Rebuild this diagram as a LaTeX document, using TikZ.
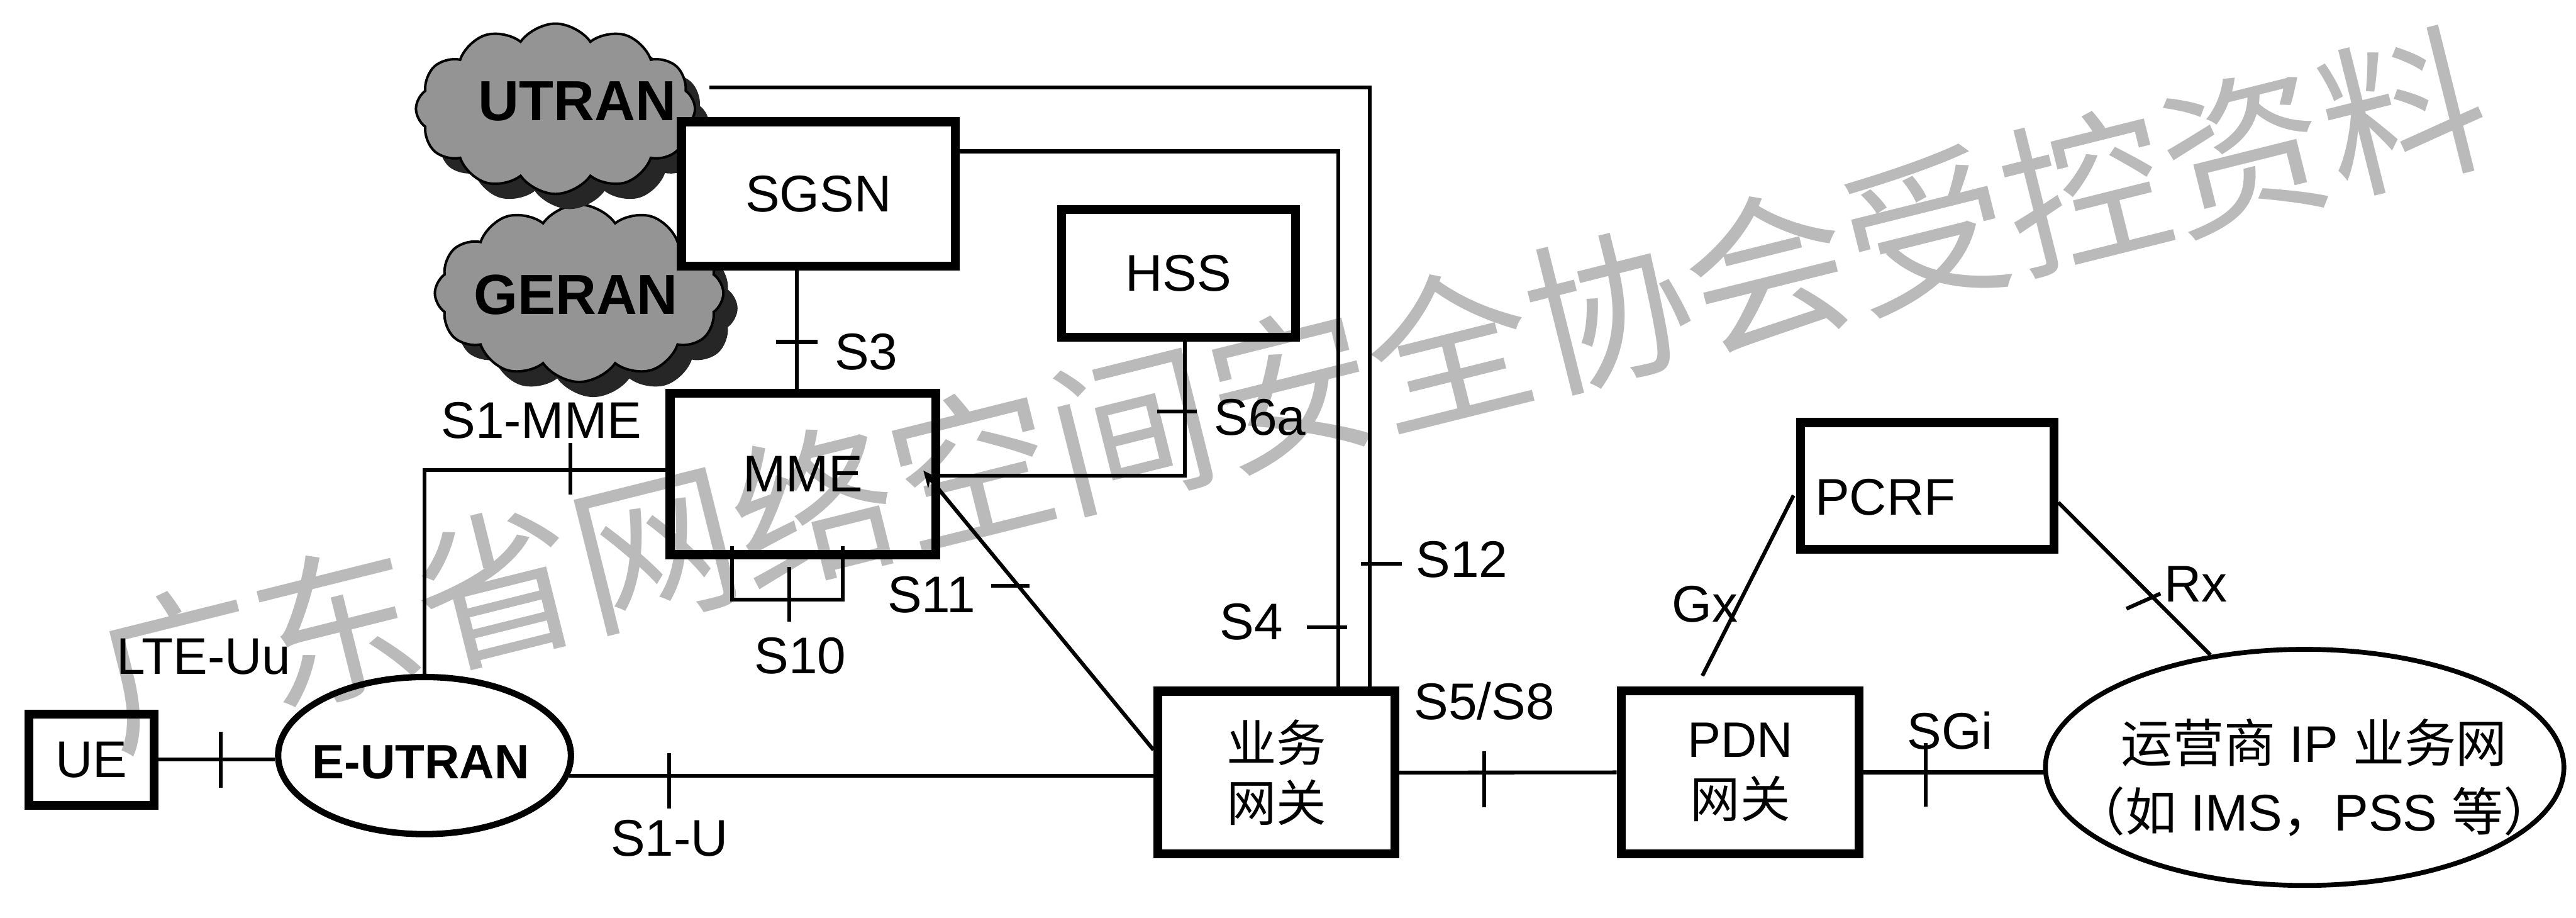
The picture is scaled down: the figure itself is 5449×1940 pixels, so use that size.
\documentclass[tikz,border=0pt]{standalone}
\usepackage{fontspec}
\setmainfont{Liberation Sans}
\newfontfamily\cjk{Noto Sans CJK SC}
\usetikzlibrary{shapes.geometric,shapes.symbols,calc,arrows.meta}
\definecolor{wmgray}{HTML}{BABABA}
\begin{document}
\begin{tikzpicture}[x=0.01cm, y=-0.01cm,
  box/.style={draw, line width=5.4pt, rectangle, inner sep=0, align=center, font=\fontsize{31}{36}\selectfont},
  conn/.style={line width=2.3pt},
  tickln/.style={line width=2.3pt},
  lbl/.style={inner sep=0, font=\fontsize{31}{36}\selectfont},
  cl/.style={cloud, cloud puffs=12, cloud puff arc=110, cloud ignores aspect, inner sep=0},
  cltxt/.style={inner sep=0, font=\bfseries\fontsize{34}{40}\selectfont},
]
\useasboundingbox (0,0) rectangle (5449,1940);

% watermark (behind everything)
\node[rotate=14, text=wmgray, inner sep=0, font=\cjk\fontsize{98.5}{100}\selectfont] (wm) at (2730,822) {广东省网络空间安全协会受控资料};

% clouds
\node[cl, fill=black!85, minimum width=6.1cm, minimum height=3.75cm] (geransh) at (1255,652) {};
\node[cl, draw, line width=1.5pt, fill=black!42, minimum width=6.1cm, minimum height=3.75cm] (geran) at (1225,620) {};
\node[cl, fill=black!85, minimum width=5.9cm, minimum height=3.6cm] (utransh) at (1205,262) {};
\node[cl, draw, line width=1.5pt, fill=black!42, minimum width=5.9cm, minimum height=3.6cm] (utran) at (1175,230) {};
\node[cltxt] (utrantxt) at (1221,214) {UTRAN};
\node[cltxt] (gerantxt) at (1218,623) {GERAN};

% boxes
\node[box, fill=white, minimum width=5.79cm, minimum height=3.05cm] (sgsn) at (1731,410) {SGSN};
\node[box, minimum width=4.95cm, minimum height=2.69cm] (hss) at (2493,578) {HSS};
\node[box, minimum width=5.62cm, minimum height=3.41cm] (mme) at (1698.5,1002) {MME};
\node[box, minimum width=2.64cm, minimum height=1.93cm] (ue) at (193.5,1606) {UE};
\node[box, minimum width=5.01cm, minimum height=3.44cm, font=\cjk\fontsize{30}{36}\selectfont] (sgw) at (2700,1633.5) {业务\\网关};
\node[box, minimum width=5.03cm, minimum height=3.45cm, font=\fontsize{30}{36.4}\selectfont] (pdn) at (3681,1633) {PDN\\{\cjk 网关}};
\node[box, minimum width=5.36cm, minimum height=2.68cm] (pcrf) at (4076.5,1027.5) {};
\node[lbl] (pcrftxt) at (3988,1051) {PCRF};
\node[ellipse, draw, line width=3.8pt, inner sep=0, minimum width=6.19cm, minimum height=3.32cm] (eutran) at (898,1597.5) {};
\node[inner sep=0, font=\bfseries\fontsize{29}{34}\selectfont] (eutrantxt) at (890,1612) {E-UTRAN};
\node[ellipse, draw, line width=2.9pt, inner sep=0, minimum width=10.96cm, minimum height=4.99cm] (opnet) at (4875,1622.5) {};
\node[inner sep=0, align=center, font=\fontsize{31}{41}\selectfont] (opnettxt) at (4895,1644) {{\cjk 运营商} IP {\cjk 业务网}\\{\cjk （如} IMS{\cjk ，}PSS {\cjk 等）}};

% helper coordinates
\coordinate (s1c) at (896,994);
\coordinate (s3c) at (1686,723);
\coordinate (s6c) at (2506,1006);
\coordinate (s12c) at (2898,185);
\coordinate (s4c) at (2831,320);

% connectors
\draw[conn] (ue.east) -- (ue.east -| eutran.west);
\draw[conn] (eutran.north) -- (eutran.north |- s1c) -- (s1c -| mme.west);
\draw[conn] (s3c |- sgsn.south) -- (s3c |- mme.north);
\draw[conn] (hss.south -| s6c) -- (s6c) -- (s6c -| mme.east);
\draw[conn, -{Stealth[length=10pt, width=9pt]}] ($(sgw.west)+(0,-48)$) -- ($(mme.east)+(-36,-7)$);
\draw[conn] ($(mme.south)+(-150,-28)$) -- ++(0,114) -| ($(mme.south)+(84,-28)$);
\draw[conn] (eutran.-8.5) -- (eutran.-8.5 -| sgw.west);
\draw[conn] (s12c -| utransh.east) -- (s12c) -- (s12c |- sgw.north);
\draw[conn] (s4c -| sgsn.east) -- (s4c) -- (s4c |- sgw.north);
\draw[conn] (sgw.east) -- (pdn.west);
\draw[conn] (pdn.east) -- (pdn.east -| opnet.west);
\draw[conn] ($(pdn.north)+(-80,-22)$) -- ($(pcrf.west)+(-5,20)$);
\draw[conn] ($(pcrf.east)+(0,35)$) -- (opnet.130);

% ticks
\coordinate (tuu) at (467,1607);
\draw[tickln] ($(tuu)+(0,-60)$) -- ($(tuu)+(0,58)$);
\coordinate (ts1) at (1206,994);
\draw[tickln] ($(ts1)+(0,-58)$) -- ($(ts1)+(0,52)$);
\coordinate (ts3) at (1686,723);
\draw[tickln] ($(ts3)+(-44,0)$) -- ($(ts3)+(43,0)$);
\coordinate (ts6) at (2506,870);
\draw[tickln] ($(ts6)+(-58,0)$) -- ($(ts6)+(25,0)$);
\coordinate (ts10) at (1669,1258);
\draw[tickln] ($(ts10)+(0,-60)$) -- ($(ts10)+(0,57)$);
\coordinate (ts11) at (2153,1239);
\draw[tickln] ($(ts11)+(-56,0)$) -- ($(ts11)+(25,0)$);
\coordinate (ts1u) at (1416,1642);
\draw[tickln] ($(ts1u)+(0,-50)$) -- ($(ts1u)+(0,68)$);
\coordinate (ts4) at (2831,1326);
\draw[tickln] ($(ts4)+(-67,0)$) -- ($(ts4)+(19,0)$);
\coordinate (ts12) at (2898,1192);
\draw[tickln] ($(ts12)+(-19,0)$) -- ($(ts12)+(67,0)$);
\coordinate (ts58) at (3140,1633);
\draw[tickln] ($(ts58)+(0,-45)$) -- ($(ts58)+(0,74)$);
\coordinate (tsgi) at (4073,1633);
\draw[tickln] ($(tsgi)+(0,-62)$) -- ($(tsgi)+(0,72)$);
\coordinate (trx) at (4555,1268);
\draw[tickln] ($(trx)+(-57,19)$) -- ($(trx)+(15,-13)$);

% labels
\node[lbl] (lLTE) at (431,1389) {LTE-Uu};
\node[lbl] (lS1M) at (1145,889) {S1-MME};
\node[lbl] (lS3) at (1832,744) {S3};
\node[lbl] (lS6a) at (2665,882) {S6a};
\node[lbl] (lS10) at (1693,1386) {S10};
\node[lbl] (lS11) at (1970,1258) {S11};
\node[lbl] (lS1U) at (1416,1772) {S1-U};
\node[lbl] (lS4) at (2647,1315) {S4};
\node[lbl] (lS12) at (3092,1183) {S12};
\node[lbl] (lS58) at (3140,1482) {S5/S8};
\node[lbl] (lGx) at (3606,1277) {Gx};
\node[lbl] (lRx) at (4645,1235) {Rx};
\node[lbl] (lSGi) at (4125,1545) {SGi};
\end{tikzpicture}
\end{document}
